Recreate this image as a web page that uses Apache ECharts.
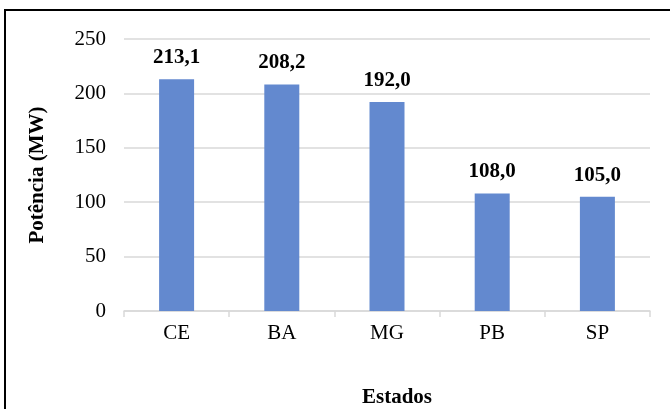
<!DOCTYPE html>
<html>
<head>
<meta charset="utf-8">
<script src="https://cdn.jsdelivr.net/npm/echarts@6/dist/echarts.min.js"></script>
<style>
  html, body { margin: 0; padding: 0; background: #fff; }
  #chart { width: 670px; height: 409px; }
</style>
</head>
<body>
<div id="chart"></div>
<script>
// Installed power by state (MW)
const estados = ['CE', 'BA', 'MG', 'PB', 'SP'];
const potencia = [213.1, 208.2, 192.0, 108.0, 105.0];
const yTicks = [0, 50, 100, 150, 200, 250];

const serif = '"Liberation Serif", "Times New Roman", serif';
const chart = echarts.init(document.getElementById('chart'), null, { renderer: 'canvas' });

chart.setOption({
  backgroundColor: '#ffffff',
  animation: false,
  graphic: [{
    type: 'rect',
    shape: { x: 5, y: 10, width: 700, height: 500 },
    style: { fill: 'none', stroke: '#000', lineWidth: 2 },
    silent: true
  }, {
    type: 'text',
    left: 362, top: 387,
    style: { text: 'Estados', font: 'bold 21px ' + serif, fill: '#000' }
  }],
  grid: { left: 124, right: 20, top: 39, bottom: 98 },
  xAxis: {
    type: 'category',
    data: estados,
    axisLine: { lineStyle: { color: '#d9d9d9', width: 1.5 } },
    axisTick: { show: true, length: 6, lineStyle: { color: '#d9d9d9', width: 1.5 } },
    axisLabel: { color: '#000', fontFamily: serif, fontSize: 21, margin: 12 }
  },
  yAxis: {
    type: 'value',
    min: yTicks[0],
    max: yTicks[yTicks.length - 1],
    interval: 50,
    name: 'Potência (MW)',
    nameLocation: 'middle',
    nameGap: 76,
    nameTextStyle: { color: '#000', fontFamily: serif, fontSize: 21, fontWeight: 'bold' },
    axisLine: { show: false },
    axisTick: { show: false },
    splitLine: { lineStyle: { color: '#d9d9d9', width: 1.5 } },
    axisLabel: { color: '#000', fontFamily: serif, fontSize: 21, margin: 18 }
  },
  series: [{
    type: 'bar',
    data: potencia,
    barWidth: 35,
    itemStyle: { color: '#6389cf' },
    label: {
      show: true,
      position: 'top',
      distance: 11,
      color: '#000',
      fontFamily: serif,
      fontSize: 21,
      fontWeight: 'bold',
      formatter: p => p.value.toFixed(1).replace('.', ',')
    }
  }]
});
</script>
</body>
</html>
